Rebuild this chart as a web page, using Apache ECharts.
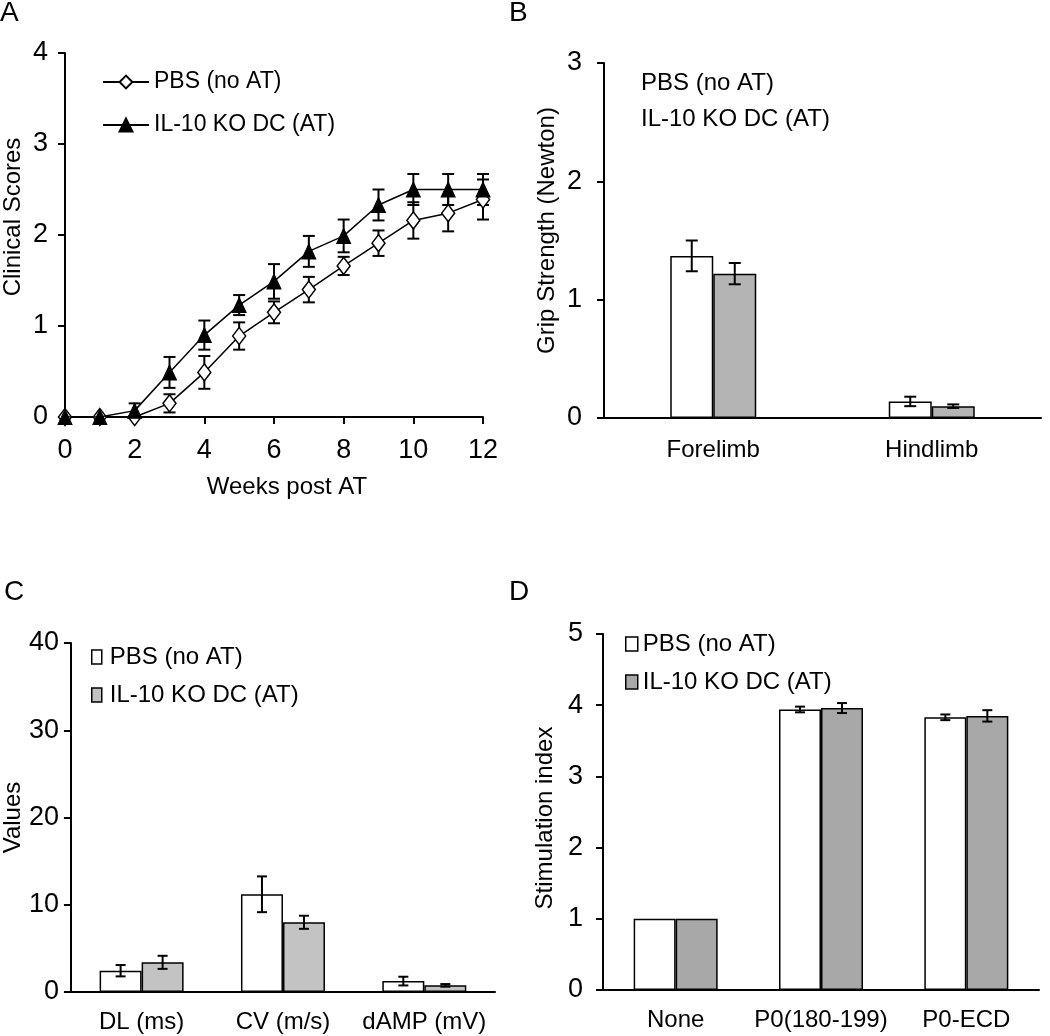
<!DOCTYPE html>
<html><head><meta charset="utf-8">
<script src="https://cdn.jsdelivr.net/npm/echarts@6/dist/echarts.min.js"></script>
<style>html,body{margin:0;padding:0;background:#fff}#c{width:1050px;height:1036px}</style>
</head><body><div id="c"></div>
<script>
// ---- Panel A: clinical scores ----
const weeks = [0,1,2,3,4,5,6,7,8,9,10,11,12];
const pbsScores    = [0,0,0,0.15,0.49,0.89,1.15,1.40,1.66,1.91,2.16,2.24,2.39];
const pbsScoresErr = [0,0,0,0.10,0.18,0.15,0.12,0.14,0.10,0.14,0.20,0.20,0.22];
const koScores     = [0,0,0.07,0.49,0.90,1.23,1.49,1.82,1.99,2.33,2.50,2.50,2.50];
const koScoresErr  = [0,0,0.08,0.17,0.16,0.11,0.19,0.17,0.18,0.17,0.17,0.17,0.17];
// ---- Panel B: grip strength ----
const gripCats   = ['Forelimb','Hindlimb'];
const gripPbs    = [1.37,0.14];
const gripPbsErr = [0.13,0.04];
const gripKo     = [1.22,0.10];
const gripKoErr  = [0.09,0.015];
// ---- Panel C: nerve conduction ----
const ncsCats   = ['DL (ms)','CV (m/s)','dAMP (mV)'];
const ncsPbs    = [2.44,11.2,1.25];
const ncsPbsErr = [0.65,2.05,0.5];
const ncsKo     = [3.4,7.99,0.76];
const ncsKoErr  = [0.75,0.75,0.15];
// ---- Panel D: stimulation index ----
const stimCats   = ['None','P0(180-199)','P0-ECD'];
const stimPbs    = [1,3.94,3.83];
const stimPbsErr = [0,0.04,0.04];
const stimKo     = [1,3.96,3.85];
const stimKoErr  = [0,0.07,0.08];

const PBS = 'PBS (no AT)', KO = 'IL-10 KO DC (AT)';
const NARROW = "'Liberation Sans Narrow','Arial Narrow','Liberation Sans',sans-serif";
const REG = "'Liberation Sans',Arial,sans-serif";
const tickLbl = {color:'#000', fontFamily:NARROW, fontSize:27};
const catLbl = {color:'#000', fontFamily:REG, fontSize:24};

function errRender(offset, cap){
  return function(params, api){
    const xv = api.value(0), yv = api.value(1), e = api.value(2);
    if (!e) return null;
    const hi = api.coord([xv, yv + e]), lo = api.coord([xv, yv - e]);
    const x = hi[0] + offset;
    const st = {stroke:'#000', lineWidth:2};
    return {type:'group', children:[
      {type:'line', shape:{x1:x,y1:hi[1],x2:x,y2:lo[1]}, style:st},
      {type:'line', shape:{x1:x-cap,y1:hi[1],x2:x+cap,y2:hi[1]}, style:st},
      {type:'line', shape:{x1:x-cap,y1:lo[1],x2:x+cap,y2:lo[1]}, style:st}
    ]};
  };
}
function axisLineCfg(){ return {show:true, lineStyle:{color:'#000', width:2}}; }
function yAxisCfg(grid, max, interval, name, gap, pad, margin){
  return {type:'value', gridIndex:grid, min:0, max:max, interval:interval,
    axisLine:axisLineCfg(), axisTick:{show:true, length:7, lineStyle:{color:'#000', width:2}},
    splitLine:{show:false}, axisLabel:{...tickLbl, margin:margin},
    name:name, nameLocation:'middle', nameGap:gap, nameRotate:90,
    nameTextStyle:{color:'#000', fontFamily:REG, fontSize:24, padding:pad}};
}
function catAxisCfg(grid, cats, margin){
  return {type:'category', gridIndex:grid, data:cats,
    axisLine:axisLineCfg(), axisTick:{show:false},
    axisLabel:{...catLbl, margin:margin, interval:0, hideOverlap:false}};
}
function barSeries(name, grid, vals, color, bw){
  return {type:'bar', name:name, xAxisIndex:grid, yAxisIndex:grid, data:vals,
    barWidth:bw, barGap:'0%', itemStyle:{color:color, borderColor:'#000', borderWidth:1.5}};
}
function errSeries(name, grid, vals, errs, offset, cap){
  return {type:'custom', name:name, xAxisIndex:grid, yAxisIndex:grid, z:5,
    renderItem:errRender(offset, cap), encode:{x:0, y:1},
    data: vals.map((v,i)=>[i, v, errs[i]])};
}

const GRAY_B = '#b4b4b4', GRAY_C = '#c3c3c3', GRAY_D = '#a8a8a8';

const option = {
  animation:false,
  backgroundColor:'#fff',
  title:[
    {text:'A', left:0, top:-1, padding:0, textStyle:{fontFamily:REG, fontSize:28, fontWeight:'normal', color:'#000'}},
    {text:'B', left:509, top:-1, padding:0, textStyle:{fontFamily:REG, fontSize:28, fontWeight:'normal', color:'#000'}},
    {text:'C', left:4, top:578, padding:0, textStyle:{fontFamily:REG, fontSize:28, fontWeight:'normal', color:'#000'}},
    {text:'D', left:509, top:578, padding:0, textStyle:{fontFamily:REG, fontSize:28, fontWeight:'normal', color:'#000'}}
  ],
  legend:[
    {left:97, top:65, orient:'vertical', itemWidth:46, itemHeight:16, itemGap:19,
      data:[PBS, KO], selectedMode:false,
      textStyle:{fontFamily:NARROW, fontSize:23, lineHeight:24, color:'#000'}},
    {left:631, top:66, orient:'vertical', itemWidth:0, itemHeight:0, itemGap:12, selectedMode:false,
      data:[{name:PBS, icon:'rect', itemStyle:{color:'rgba(0,0,0,0)', borderWidth:0}},
            {name:KO, icon:'rect', itemStyle:{color:'rgba(0,0,0,0)', borderWidth:0}}],
      textStyle:{fontFamily:REG, fontSize:24, lineHeight:24, color:'#000'}},
    {left:86, top:640, orient:'vertical', itemWidth:10, itemHeight:14, itemGap:14, selectedMode:false,
      data:[{name:PBS, icon:'rect', itemStyle:{color:'#fff', borderColor:'#000', borderWidth:1.5}},
            {name:KO, icon:'rect', itemStyle:{color:GRAY_C, borderColor:'#000', borderWidth:1.5}}],
      textStyle:{fontFamily:REG, fontSize:24, lineHeight:24, color:'#000', padding:[0,0,0,3]}},
    {left:620, top:627, orient:'vertical', itemWidth:12, itemHeight:14, itemGap:14, selectedMode:false,
      data:[{name:PBS, icon:'rect', itemStyle:{color:'#fff', borderColor:'#000', borderWidth:1.5}},
            {name:KO, icon:'rect', itemStyle:{color:GRAY_D, borderColor:'#000', borderWidth:1.5}}],
      textStyle:{fontFamily:REG, fontSize:24, lineHeight:24, color:'#000'}}
  ],
  grid:[
    {left:65, top:53, width:418, height:364},
    {left:604, top:63, width:437, height:355},
    {left:62, top:643, width:433, height:349},
    {left:603, top:634, width:436, height:356}
  ],
  xAxis:[
    {type:'value', gridIndex:0, min:0, max:12, interval:2,
      axisLine:axisLineCfg(), axisTick:{show:true, length:7, lineStyle:{color:'#000', width:2}},
      splitLine:{show:false}, axisLabel:{...tickLbl, margin:20},
      name:'Weeks post AT', nameLocation:'middle', nameGap:58,
      nameTextStyle:{color:'#000', fontFamily:REG, fontSize:24, padding:[0,0,0,26]}},
    catAxisCfg(1, gripCats, 20),
    catAxisCfg(2, ncsCats, 18),
    catAxisCfg(3, stimCats, 18)
  ],
  yAxis:[
    yAxisCfg(0, 4, 1, 'Clinical Scores', 40, [0,0,0,36], 17),
    yAxisCfg(1, 3, 1, 'Grip Strength (Newton)', 45, [0,0,0,20], 22),
    yAxisCfg(2, 40, 10, 'Values', 38, [0,0,0,0], 12),
    yAxisCfg(3, 5, 1, 'Stimulation index', 46, [0,12,0,0], 20)
  ],
  series:[
    {type:'line', name:PBS, xAxisIndex:0, yAxisIndex:0,
      data:weeks.map((w,i)=>[w, pbsScores[i]]),
      symbol:'diamond', symbolSize:[13,17], z:3,
      lineStyle:{color:'#000', width:1.5},
      itemStyle:{color:'#fff', borderColor:'#000', borderWidth:1.5}},
    {type:'line', name:KO, xAxisIndex:0, yAxisIndex:0,
      data:weeks.map((w,i)=>[w, koScores[i]]),
      symbol:'triangle', symbolSize:[14,15], z:4,
      lineStyle:{color:'#000', width:1.5},
      itemStyle:{color:'#000', borderColor:'#000', borderWidth:1}},
    {type:'custom', name:PBS, xAxisIndex:0, yAxisIndex:0, z:2, renderItem:errRender(0,6),
      encode:{x:0,y:1}, data:weeks.map((w,i)=>[w, pbsScores[i], pbsScoresErr[i]])},
    {type:'custom', name:KO, xAxisIndex:0, yAxisIndex:0, z:2, renderItem:errRender(0,6),
      encode:{x:0,y:1}, data:weeks.map((w,i)=>[w, koScores[i], koScoresErr[i]])},

    barSeries(PBS, 1, gripPbs, '#fff', 43),
    barSeries(KO, 1, gripKo, GRAY_B, 43),
    errSeries(PBS, 1, gripPbs, gripPbsErr, -21.5, 6),
    errSeries(KO, 1, gripKo, gripKoErr, 21.5, 6),

    barSeries(PBS, 2, ncsPbs, '#fff', 42),
    barSeries(KO, 2, ncsKo, GRAY_C, 42),
    errSeries(PBS, 2, ncsPbs, ncsPbsErr, -21, 5),
    errSeries(KO, 2, ncsKo, ncsKoErr, 21, 5),

    barSeries(PBS, 3, stimPbs, '#fff', 42),
    barSeries(KO, 3, stimKo, GRAY_D, 42),
    errSeries(PBS, 3, stimPbs, stimPbsErr, -21, 5),
    errSeries(KO, 3, stimKo, stimKoErr, 21, 5)
  ]
};
const chart = echarts.init(document.getElementById('c'), null, {renderer:'canvas'});
chart.setOption(option);
</script>
</body></html>
